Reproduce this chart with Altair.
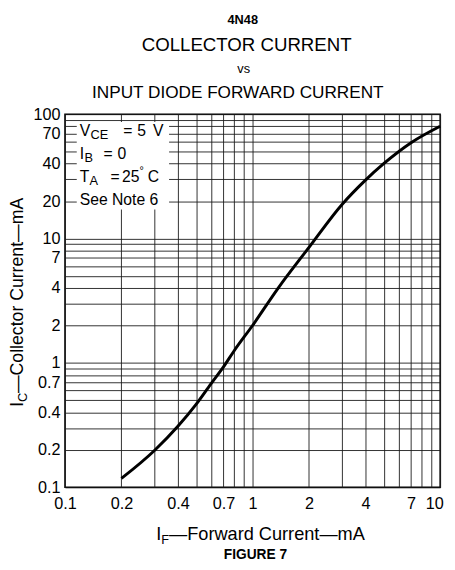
import json
import altair as alt
import pandas as pd

FONT = "Liberation Sans"

# Curve: forward current (mA) -> collector current (mA)
if_ma = [0.2, 0.3, 0.4, 0.5, 0.6, 0.7, 0.8, 1.0, 1.37, 2.0, 3.0, 4.0, 5.0, 7.0, 10.0]
ic_ma = [0.118, 0.198, 0.31, 0.465, 0.68, 0.93, 1.26, 2.0, 4.0, 8.5, 18.8, 29.5, 40.0, 59.0, 80.0]

x_grid = [0.1, 0.2, 0.3, 0.4, 0.5, 0.6, 0.7, 0.8, 0.9,
          1, 2, 3, 4, 5, 6, 7, 8, 9, 10]
y_grid = [0.1, 0.2, 0.3, 0.4, 0.5, 0.6, 0.7, 0.8, 0.9,
          1, 2, 3, 4, 5, 6, 7, 8, 9,
          10, 20, 30, 40, 50, 60, 70, 80, 90, 100]
x_labels = [0.1, 0.2, 0.4, 0.7, 1, 2, 4, 7, 10]
y_labels = [0.1, 0.2, 0.4, 0.7, 1, 2, 4, 7, 10, 20, 40, 70, 100]

W, H = 382, 380

df = pd.DataFrame({"If": if_ma, "Ic": ic_ma})


def lab_expr(vals):
    return f"indexof({json.dumps(vals)}, datum.value) >= 0 ? format(datum.value, '~g') : ''"


x_axis = alt.Axis(values=x_grid, labelExpr=lab_expr(x_labels), title=None,
                  grid=True, ticks=False, domain=False, labelFont=FONT,
                  labelFontSize=16.5, labelColor="black", labelPadding=9,
                  labelFlush=False, labelOverlap=False,
                  labelOffset={"condition": {"test": "datum.value == 10", "value": -6},
                               "value": 0})
y_axis = alt.Axis(values=y_grid, labelExpr=lab_expr(y_labels), title=None,
                  grid=True, ticks=False, domain=False, labelFont=FONT,
                  labelFontSize=16.5, labelColor="black", labelPadding=5,
                  labelFlush=False, labelOverlap=False)

curve = alt.Chart(df).mark_line(color="black", strokeWidth=3, interpolate="monotone").encode(
    x=alt.X("If:Q", scale=alt.Scale(type="log", domain=[0.1, 10]), axis=x_axis),
    y=alt.Y("Ic:Q", scale=alt.Scale(type="log", domain=[0.1, 100]), axis=y_axis),
)

box = alt.Chart(alt.Data(values=[{}])).mark_rect(fill="white").encode(
    x=alt.value(12), x2=alt.value(106), y=alt.value(8), y2=alt.value(97)
)

# (text, x, y, size, align, weight, angle)
pieces = [
    ("4N48", 181, -92, 13, "center", "bold", 0),
    ("COLLECTOR CURRENT", 185, -64, 19, "center", "normal", 0),
    ("vs", 182, -42, 13, "center", "normal", 0),
    ("INPUT DIODE FORWARD CURRENT", 176, -16, 17.5, "center", "normal", 0),
    # annotation box
    ("V", 15, 22, 16, "left", "normal", 0),
    ("CE", 26, 25, 13, "left", "normal", 0),
    ("=", 64, 22, 16, "center", "normal", 0),
    ("5", 78, 22, 16, "center", "normal", 0),
    ("V", 95, 22, 16, "center", "normal", 0),
    ("I", 15, 46, 16, "left", "normal", 0),
    ("B", 20, 49, 13, "left", "normal", 0),
    ("=", 44, 46, 16, "center", "normal", 0),
    ("0", 58, 46, 16, "center", "normal", 0),
    ("T", 15, 69, 16, "left", "normal", 0),
    ("A", 25, 72, 13, "left", "normal", 0),
    ("=", 51, 69, 16, "center", "normal", 0),
    ("25", 67, 69, 16, "center", "normal", 0),
    ("°", 76, 61, 11, "left", "normal", 0),
    ("C", 90, 69, 16, "center", "normal", 0),
    ("See Note 6", 15, 92, 16, "left", "normal", 0),
    # x axis title
    ("I", 93, 434, 18.5, "left", "normal", 0),
    ("F", 98, 438, 13, "left", "normal", 0),
    ("—Forward Current—mA", 106, 434, 18.5, "left", "normal", 0),
    ("FIGURE 7", 194, 453, 14, "center", "bold", 0),
    # y axis title (rotated)
    ("I", -43, 298, 18, "left", "normal", 270),
    ("C", -39, 293, 13, "left", "normal", 270),
    ("—Collector Current—mA", -43, 284, 18, "left", "normal", 270),
]

texts = []
for s, x, y, size, align, weight, angle in pieces:
    t = alt.Chart(alt.Data(values=[{}])).mark_text(
        font=FONT, fontSize=size, align=align, baseline="alphabetic",
        fontWeight=weight, angle=angle, color="black"
    ).encode(x=alt.value(x), y=alt.value(y), text=alt.value(s))
    texts.append(t)

chart = alt.layer(curve, box, *texts).properties(
    width=W, height=H,
    autosize=alt.AutoSizeParams(type="none"),
    padding={"left": 58, "top": 103, "right": 7, "bottom": 75},
).configure_view(
    stroke="black", strokeWidth=1.5
).configure_axis(
    gridColor="#1a1a1a", gridWidth=0.9, gridOpacity=1
)

chart.save("out.html", embed_options={"renderer": "svg", "actions": False})
